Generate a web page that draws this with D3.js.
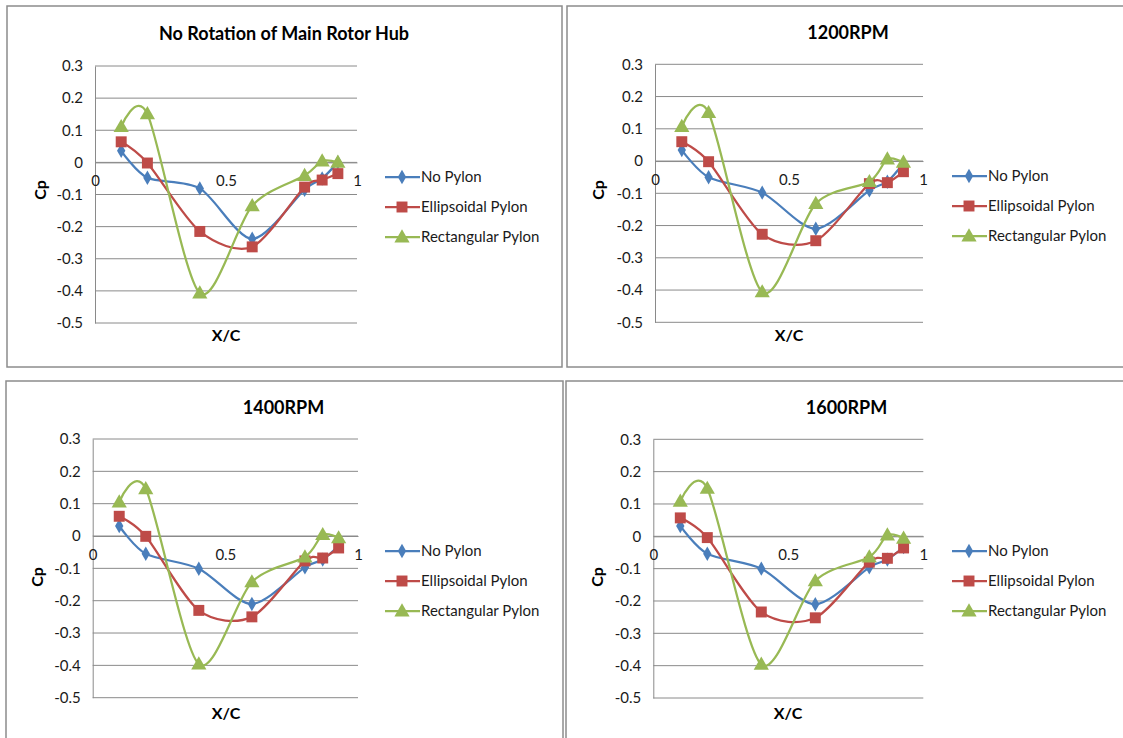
<!DOCTYPE html>
<html><head><meta charset="utf-8">
<script src="https://cdn.jsdelivr.net/npm/d3@7"></script>
<style>body{margin:0;background:#fff}svg{display:block;font-family:Lato,"Open Sans",sans-serif}</style>
</head><body>
<svg id="c" width="1123" height="738"></svg>
<script>
const xValues = [0.1, 0.2, 0.4, 0.6, 0.8, 0.867, 0.927];
const seriesNames = ["No Pylon", "Ellipsoidal Pylon", "Rectangular Pylon"];
const panelTitles = ["No Rotation of Main Rotor Hub", "1200RPM", "1400RPM", "1600RPM"];
const yTicks = [0.3, 0.2, 0.1, 0, -0.1, -0.2, -0.3, -0.4, -0.5];
const xTicks = [0, 0.5, 1];

const noPylon0   = [0.036, -0.048, -0.081, -0.238, -0.085, -0.05, 0.0];
const ellip0     = [0.064, -0.002, -0.215, -0.263, -0.077, -0.055, -0.035];
const rect0      = [0.111, 0.151, -0.407, -0.135, -0.041, 0.004, 0.0];

const noPylon1200 = [0.034, -0.05, -0.098, -0.21, -0.091, -0.064, -0.007];
const ellip1200   = [0.06, -0.002, -0.227, -0.247, -0.07, -0.067, -0.033];
const rect1200    = [0.107, 0.15, -0.406, -0.132, -0.064, 0.006, -0.004];

const noPylon1400 = [0.031, -0.055, -0.101, -0.21, -0.097, -0.073, -0.03];
const ellip1400   = [0.061, -0.001, -0.23, -0.25, -0.077, -0.068, -0.037];
const rect1400    = [0.105, 0.146, -0.396, -0.142, -0.065, 0.004, -0.006];

const noPylon1600 = [0.032, -0.054, -0.1, -0.21, -0.096, -0.072, -0.033];
const ellip1600   = [0.057, -0.004, -0.234, -0.252, -0.08, -0.068, -0.036];
const rect1600    = [0.108, 0.148, -0.396, -0.138, -0.064, 0.004, -0.006];

const panelData = [
  [noPylon0, ellip0, rect0],
  [noPylon1200, ellip1200, rect1200],
  [noPylon1400, ellip1400, rect1400],
  [noPylon1600, ellip1600, rect1600]
];

const colors = ["#4A7EBB", "#BE4B48", "#98B954"];
const symbols = [d3.symbolDiamond, d3.symbolSquare, d3.symbolTriangle];
const symSizes = [60, 120, 100];

const layout = [
  {box:[7,6,555,361], px:[95,357], py:[66,323], title:[284,40], cp:[40,190], xc:[226,341], leg:[385,177,30]},
  {box:[567,6,560,361], px:[655,923], py:[64.3,322.3], title:[848,39], cp:[598,190], xc:[789,341], leg:[952,176,30]},
  {box:[6,381,557,362], px:[92.7,358], py:[439,697.7], title:[283.5,414], cp:[37,577], xc:[226,719], leg:[385,551,30]},
  {box:[566,381,562,362], px:[653.3,923.3], py:[439.3,698], title:[846.5,414], cp:[597,577], xc:[788,719], leg:[952,551,30]}
];

const svg = d3.select("#c");

layout.forEach((L, pi) => {
  const g = svg.append("g");
  g.append("rect").attr("x", L.box[0]).attr("y", L.box[1]).attr("width", L.box[2]).attr("height", L.box[3])
    .attr("fill", "none").attr("stroke", "#8c8c8c").attr("stroke-width", 1.5);

  const x = d3.scaleLinear().domain([0, 1]).range(L.px);
  const y = d3.scaleLinear().domain([0.3, -0.5]).range(L.py);

  g.append("g").selectAll("line").data(yTicks).join("line")
    .attr("x1", L.px[0]).attr("x2", L.px[1]).attr("y1", d => y(d)).attr("y2", d => y(d))
    .attr("stroke", "#8a8a8a").attr("stroke-width", 1);

  const ya = g.append("g").attr("transform", `translate(${L.px[0]},0)`)
    .call(d3.axisLeft(y).tickValues(yTicks).tickSize(0).tickPadding(12).tickFormat(d => String(+d.toFixed(1))));
  ya.select(".domain").attr("stroke", "#8a8a8a");
  ya.selectAll("text").attr("font-size", 15).attr("fill", "#1a1a1a").attr("font-family", "Lato, sans-serif");

  const xa = g.append("g").attr("transform", `translate(0,${y(0)})`)
    .call(d3.axisBottom(x).tickValues(xTicks).tickSize(0).tickPadding(13).tickFormat(d => String(d)));
  xa.select(".domain").attr("stroke", "#8a8a8a");
  xa.selectAll("text").attr("font-size", 15).attr("fill", "#1a1a1a").attr("font-family", "Lato, sans-serif");

  g.append("text").attr("x", L.title[0]).attr("y", L.title[1]).attr("text-anchor", "middle")
    .attr("font-size", 18).attr("font-weight", "bold").text(panelTitles[pi]);
  g.append("text").attr("transform", `translate(${L.cp[0]},${L.cp[1]}) rotate(-90)`).attr("text-anchor", "middle")
    .attr("dy", "0.35em").attr("font-size", 16).attr("font-weight", "bold").text("Cp");
  g.append("text").attr("x", L.xc[0]).attr("y", L.xc[1]).attr("text-anchor", "middle")
    .attr("font-size", 16).attr("font-weight", "bold").text("X/C");

  const line = d3.line().x((d, i) => x(xValues[i])).y(d => y(d)).curve(d3.curveCardinal.tension(0.15));

  panelData[pi].forEach((vals, si) => {
    g.append("path").attr("d", line(vals)).attr("fill", "none").attr("stroke", colors[si]).attr("stroke-width", 2.25);
    g.append("g").selectAll("path").data(vals).join("path")
      .attr("transform", (d, i) => `translate(${x(xValues[i])},${y(d) + (si === 2 ? 1 : 0)})`)
      .attr("d", d3.symbol().type(symbols[si]).size(symSizes[si]))
      .attr("fill", colors[si]);
  });

  seriesNames.forEach((name, si) => {
    const ly = L.leg[1] + si * L.leg[2];
    const lx = L.leg[0];
    g.append("line").attr("x1", lx).attr("x2", lx + 35).attr("y1", ly).attr("y2", ly)
      .attr("stroke", colors[si]).attr("stroke-width", 2.25);
    g.append("path").attr("transform", `translate(${lx + 17},${ly + (si === 2 ? 1 : 0)})`)
      .attr("d", d3.symbol().type(symbols[si]).size(symSizes[si])).attr("fill", colors[si]);
    g.append("text").attr("x", lx + 36).attr("y", ly).attr("dy", "0.35em")
      .attr("font-size", 15).attr("fill", "#1a1a1a").text(name);
  });
});
</script>
</body></html>
